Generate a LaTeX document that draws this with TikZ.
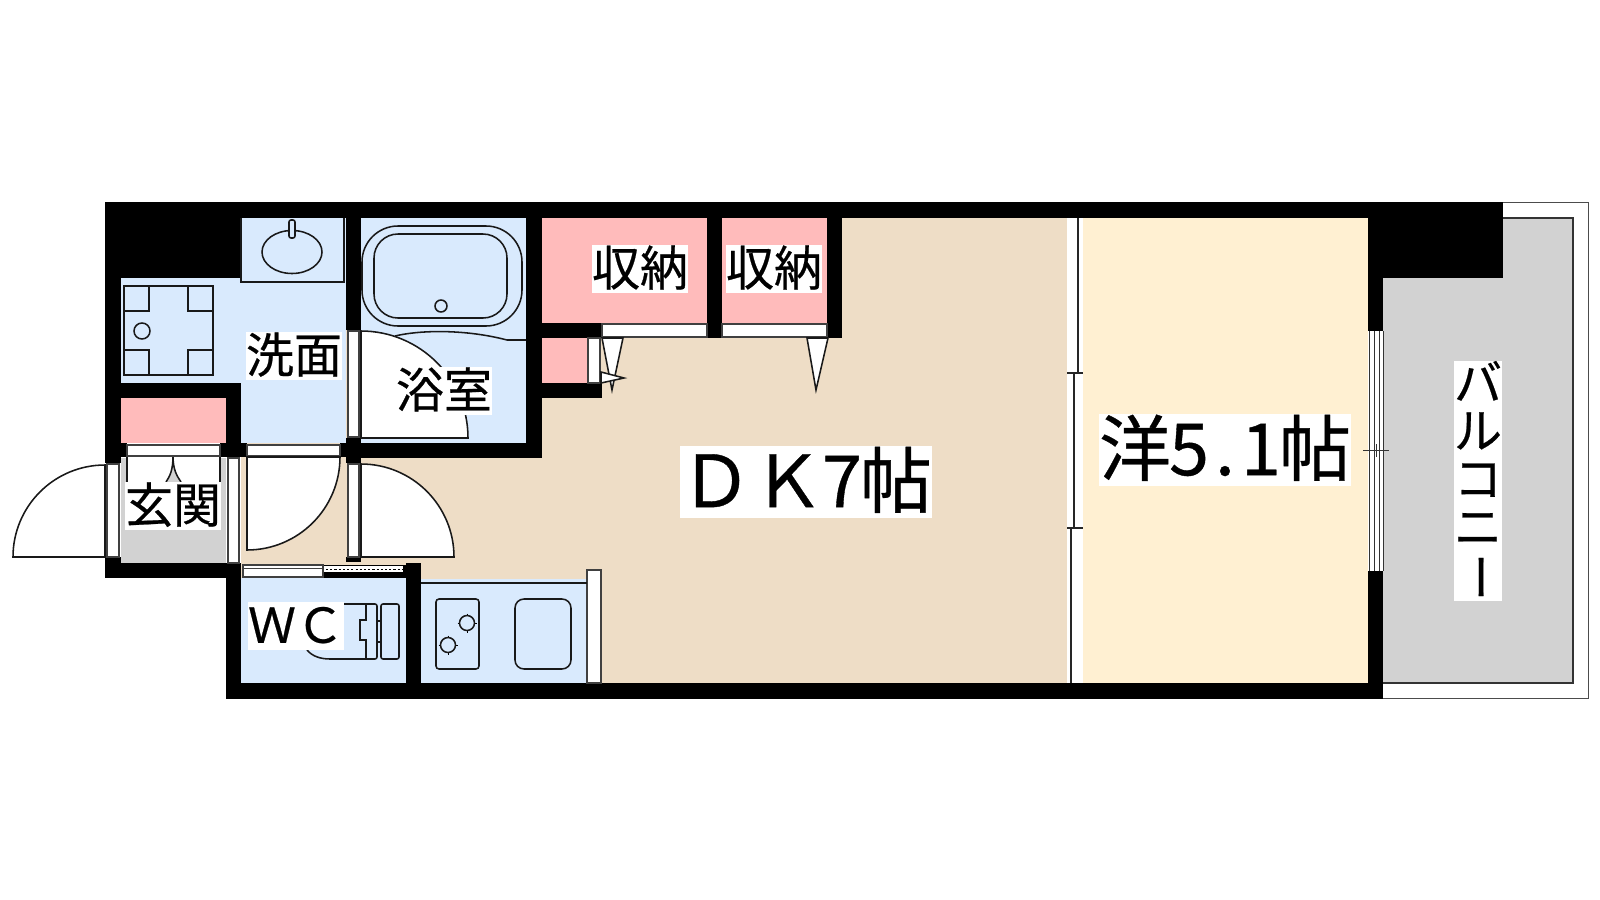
\documentclass[tikz,border=0pt]{standalone}
\usepackage{fontspec}
\setmainfont[FakeBold=0.5]{Noto Sans CJK JP}
\definecolor{roomblue}{HTML}{D9EAFD}
\definecolor{roompink}{HTML}{FFBBBB}
\definecolor{roombeige}{HTML}{EEDDC6}
\definecolor{roomyellow}{HTML}{FFF0D2}
\definecolor{roomgray}{HTML}{D2D2D2}
\newcommand{\hw}[1]{\makebox[0.5em][c]{#1}}
\tikzset{
  wall/.style={fill=black},
  panel/.style={fill=white, draw=black!75, line width=1.8pt},
  fixture/.style={draw=black!90, line width=2.2pt},
  doorleaf/.style={fill=white, draw=black!90, line width=2.2pt},
  smalllabel/.style={fill=white, inner sep=0pt, font=\fontsize{68.3pt}{68.3pt}\selectfont, text height=58pt, text depth=10.3pt},
  biglabel/.style={fill=white, inner sep=0pt, font=\fontsize{102.4pt}{102.4pt}\selectfont, text height=87pt, text depth=15.4pt},
}
\begin{document}
\begin{tikzpicture}[x=0.05cm, y=-0.05cm]
    \useasboundingbox (0,0) rectangle (1600,900);
    \fill[white] (0,0) rectangle (1600,900);

    % Pisos
    \fill[roombeige] (241,218) rectangle (1067,683);
    \fill[roomyellow] (1083,218) rectangle (1368,683);
    \fill[roomblue] (121,278) rectangle (346,383);
    \fill[roomblue] (241,218) rectangle (346,443);
    \fill[roomblue] (361,218) rectangle (526,443);
    \fill[roomblue] (241,578) rectangle (406,683);
    \fill[roomblue] (421,579) rectangle (587,683);
    \fill[roompink] (121,398) rectangle (226,443);
    \fill[roompink] (542,218) rectangle (707,323);
    \fill[roompink] (722,218) rectangle (827,323);
    \fill[roompink] (542,338) rectangle (587,383);
    \fill[roomgray] (121,458) rectangle (226,563);
    \fill[roomgray] (1383,218) rectangle (1573,683);

    % Varanda
    \draw[black!70, line width=1.4pt] (1503,202) -- (1588,202) -- (1588,698) -- (1383,698);
    \draw[black!80, line width=1.8pt] (1503,218) -- (1573,218) -- (1573,683) -- (1383,683);

    % Paredes
    \fill[wall] (105,202) rectangle (1503,218);
    \fill[wall] (105,202) rectangle (241,278);
    \fill[wall] (105,202) rectangle (121,463);
    \fill[wall] (105,557) rectangle (121,578);
    \fill[wall] (105,563) rectangle (241,578);
    \fill[wall] (121,383) rectangle (241,398);
    \fill[wall] (226,383) rectangle (241,443);
    \fill[wall] (105,443) rectangle (127,457);
    \fill[wall] (220,443) rectangle (247,457);
    \fill[wall] (340,443) rectangle (361,457);
    \fill[wall] (346,438) rectangle (361,463);
    \fill[wall] (346,557) rectangle (361,562);
    \fill[wall] (346,202) rectangle (361,330);
    \fill[wall] (346,443) rectangle (542,458);
    \fill[wall] (526,218) rectangle (542,458);
    \fill[wall] (542,323) rectangle (602,338);
    \fill[wall] (542,383) rectangle (602,398);
    \fill[wall] (707,218) rectangle (722,338);
    \fill[wall] (827,218) rectangle (842,338);
    \fill[wall] (1368,202) rectangle (1503,278);
    \fill[wall] (1368,278) rectangle (1383,331);
    \fill[wall] (1368,571) rectangle (1383,699);
    \fill[wall] (226,578) rectangle (241,699);
    \fill[wall] (226,683) rectangle (1383,699);
    \fill[wall] (406,563) rectangle (421,683);
    \fill[wall] (323,565) rectangle (406,578);

    % Correr DK / quarto
    \fill[white] (1067,218) rectangle (1083,683);
    \draw[black!85, line width=2.4pt] (1078,218) -- (1078,373);
    \draw[black!85, line width=2.4pt] (1074,373) -- (1074,528);
    \draw[black!85, line width=2.4pt] (1071,528) -- (1071,683);
    \draw[black!85, line width=1.6pt] (1067,373) -- (1083,373);
    \draw[black!85, line width=1.6pt] (1067,528) -- (1083,528);

    % Janela da varanda
    \fill[white] (1369,331) rectangle (1383,571);
    \draw[black!80, line width=1.1pt] (1369,331) -- (1369,571);
    \draw[black!80, line width=1.1pt] (1374,331) -- (1374,571);
    \draw[black!80, line width=1.1pt] (1379,331) -- (1379,571);
    \draw[black!80, line width=1.1pt] (1383,331) -- (1383,571);
    \draw[black!80, line width=1.1pt] (1363,450) -- (1389,450);
    \draw[black!80, line width=1.1pt] (1376,444) -- (1376,457);

    % Hall de entrada
    \fill[white] (127,456) rectangle (220,482);
    \fill[roomgray] (173,458) .. controls (173,470) and (170,476) .. (166,482) -- (181,482) .. controls (177,476) and (173,470) .. (173,458);
    \draw[fixture] (173,456) .. controls (173,470) and (170,476) .. (166,482);
    \draw[fixture] (173,456) .. controls (173,470) and (177,476) .. (181,482);
    \draw[fixture] (127,456) -- (127,482);
    \draw[fixture] (220,456) -- (220,512);

    % Paineis
    \draw[panel] (127,445) rectangle (220,456);
    \draw[panel] (247,445) rectangle (340,456);
    \draw[panel] (107,464) rectangle (119,557);
    \draw[panel] (228,458) rectangle (239,563);
    \draw[panel] (348,331) rectangle (359,437);
    \draw[panel] (348,464) rectangle (359,557);
    \draw[panel] (243,565) rectangle (323,577);
    \draw[black!75, line width=1pt] (243,568) -- (323,568);
    \draw[panel] (602,324) rectangle (707,337);
    \draw[panel] (722,324) rectangle (827,337);
    \draw[panel] (588,338) rectangle (600,383);
    \draw[panel] (587,570) rectangle (601,683);

    % Porta WC, tira tracejada
    \fill[white] (324,566) rectangle (403,572);
    \draw[black, line width=1.4pt, dashed] (326,569) -- (402,569);

    % Portas
    \draw[doorleaf] (13,557) arc[start angle=180, end angle=270, radius=92] -- (105,557) -- cycle;
    \draw[doorleaf] (340,457) arc[start angle=0, end angle=90, radius=93] -- (247,457) -- cycle;
    \draw[doorleaf] (361,331) arc[start angle=270, end angle=360, radius=107] -- (361,438) -- cycle;
    \draw[doorleaf] (361,464) arc[start angle=270, end angle=360, radius=93] -- (361,557) -- cycle;
    \draw[doorleaf] (602,338) -- (623,338) -- (612,390) -- cycle;
    \draw[doorleaf] (807,338) -- (828,338) -- (816,390) -- cycle;
    \draw[doorleaf] (601,372) -- (624,378) -- (601,383) -- cycle;

    % Lavatorio
    \draw[fixture] (241,218) -- (241,282) -- (344,282) -- (344,218);
    \draw[fixture] (292,252) circle[x radius=30, y radius=21.5];
    \draw[fixture, fill=roomblue, rounded corners=0.1cm] (289,220) rectangle (295,238);

    % Maquina de lavar
    \draw[fixture] (124,286) rectangle (213,375);
    \draw[fixture] (124,311) -- (149,311) -- (149,286);
    \draw[fixture] (188,286) -- (188,311) -- (213,311);
    \draw[fixture] (124,350) -- (149,350) -- (149,375);
    \draw[fixture] (188,375) -- (188,350) -- (213,350);
    \draw[fixture] (142,331) circle (8);

    % Banheira
    \draw[fixture, rounded corners=1.8cm] (362,226) rectangle (522,326);
    \draw[fixture, rounded corners=1.2cm] (374,234) rectangle (507,318);
    \draw[fixture] (441,306) circle (6);
    \draw[fixture] (395,336) .. controls (420,330) and (465,329) .. (507,340) -- (526,340);

    % Fogao e pia
    \draw[fixture] (421,583) -- (587,583);
    \draw[fixture, rounded corners=0.15cm] (436,599) rectangle (479,669);
    \foreach \bx/\by in {467/623, 448/645} {
        \draw[black, line width=1pt] (\bx-9.5,\by) -- (\bx+9.5,\by);
        \draw[black, line width=1pt] (\bx,\by-9.5) -- (\bx,\by+9.5);
        \draw[fixture, fill=roomblue] (\bx,\by) circle (7.5);
    }
    \draw[fixture, rounded corners=0.45cm] (515,599) rectangle (571,669);

    % Vaso
    \draw[fixture, rounded corners=0.1cm] (381,604) rectangle (399,659);
    \draw[fixture] (377,621) rectangle (381,642);
    \draw[fixture, rounded corners=0.1cm] (344,604) -- (377,604) -- (377,659) -- (330,659);
    \draw[fixture] (330,659) .. controls (320,659) and (312,656) .. (307,650);
    \draw[fixture] (366,604) -- (366,620) -- (360,620) -- (360,640) -- (366,640) -- (366,659);

    % Rotulos
    \node[smalllabel] (senmen) at (294,356) {洗面};
    \node[smalllabel] (shuno1) at (640,269) {収納};
    \node[smalllabel] (shuno2) at (774,269) {収納};
    \node[smalllabel] (yokushitsu) at (444,391) {浴室};
    \node[smalllabel] (genkan) at (173,506) {玄関};
    \node[smalllabel] (wc) at (296,626) {ＷＣ};
    \node[biglabel] (dk) at (806,482) {ＤＫ\hw{7}帖};
    \node[biglabel] (yoshitsu) at (1225,450) {洋\hw{5}\hw{.}\hw{1}帖};
    \node[fill=white, inner sep=0pt, align=center, font=\fontsize{68.3pt}{68.3pt}\selectfont] (balcony) at (1478,481) {バ\\ル\\コ\\ニ\\\rotatebox[origin=c]{-90}{\rule[-0.12em]{0pt}{0.88em}ー}};
\end{tikzpicture}
\end{document}
